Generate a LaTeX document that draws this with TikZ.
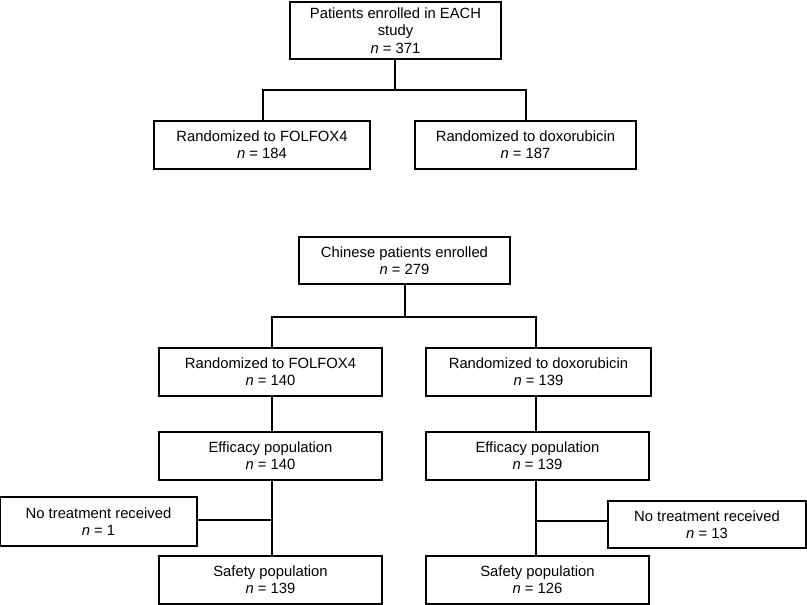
\documentclass[tikz,border=0pt]{standalone}
\usepackage{fontspec}
\setmainfont{Liberation Sans}
\begin{document}
\begin{tikzpicture}[x=1pt,y=-1pt,
		box/.style={draw,line width=1.6pt,align=center,inner sep=0pt,minimum height=48pt,font=\fontsize{14.8}{17.3}\selectfont},
		link/.style={line width=1.2pt}]
		\path[use as bounding box] (0,0) rectangle (807,605);
		
		\node[box,minimum width=211pt,minimum height=57pt] (enrol) at (395.5,30.5) {Patients enrolled in EACH\\study\\\textit{n} = 371};
		\node[box,minimum width=216pt] (randF) at (262,145) {Randomized to FOLFOX4\\\textit{n} = 184};
		\node[box,minimum width=221pt] (randD) at (525.5,145) {Randomized to doxorubicin\\\textit{n} = 187};
		
		\coordinate (jA) at (395,90);
		\coordinate (jAl) at (263,90);
		\coordinate (jAr) at (526,90);
		\draw[link] (enrol.south -| jA) -- (jA);
		\draw[link] (jAl |- randF.north) -- (jAl) -- (jAr) -- (jAr |- randD.north);
		
		\node[box,minimum width=211pt,minimum height=47pt] (chin) at (404.5,260.5) {Chinese patients enrolled\\\textit{n} = 279};
		\node[box,minimum width=223pt] (randF2) at (270.5,372) {Randomized to FOLFOX4\\\textit{n} = 140};
		\node[box,minimum width=225pt] (randD2) at (538.5,372) {Randomized to doxorubicin\\\textit{n} = 139};
		\node[box,minimum width=223pt] (effF) at (270.5,456) {Efficacy population\\\textit{n} = 140};
		\node[box,minimum width=223pt] (effD) at (537.5,456) {Efficacy population\\\textit{n} = 139};
		\node[box,minimum width=197pt,minimum height=49pt] (noF) at (98.5,521.5) {No treatment received\\\textit{n} = 1};
		\node[box,minimum width=198pt,minimum height=47pt] (noD) at (707,524.5) {No treatment received\\\textit{n} = 13};
		\node[box,minimum width=223pt] (safeF) at (270.5,580) {Safety population\\\textit{n} = 139};
		\node[box,minimum width=223pt] (safeD) at (537.5,580) {Safety population\\\textit{n} = 126};
		
		\coordinate (jB) at (405,317);
		\coordinate (jBl) at (272,317);
		\coordinate (jBr) at (536,317);
		\draw[link] (chin.south -| jB) -- (jB);
		\draw[link] (jBl |- randF2.north) -- (jBl) -- (jBr) -- (jBr |- randD2.north);
		
		\draw[link] (jBl |- randF2.south) -- (jBl |- effF.north);
		\draw[link] (jBr |- randD2.south) -- (jBr |- effD.north);
		\draw[link] (jBl |- effF.south) -- (jBl |- safeF.north);
		\draw[link] (jBr |- effD.south) -- (jBr |- safeD.north);
		\draw[link] (noF.east |- 0,520) -- (jBl |- 0,520);
		\draw[link] (jBr |- 0,521) -- (noD.west |- 0,521);
		
	\end{tikzpicture}
\end{document}
